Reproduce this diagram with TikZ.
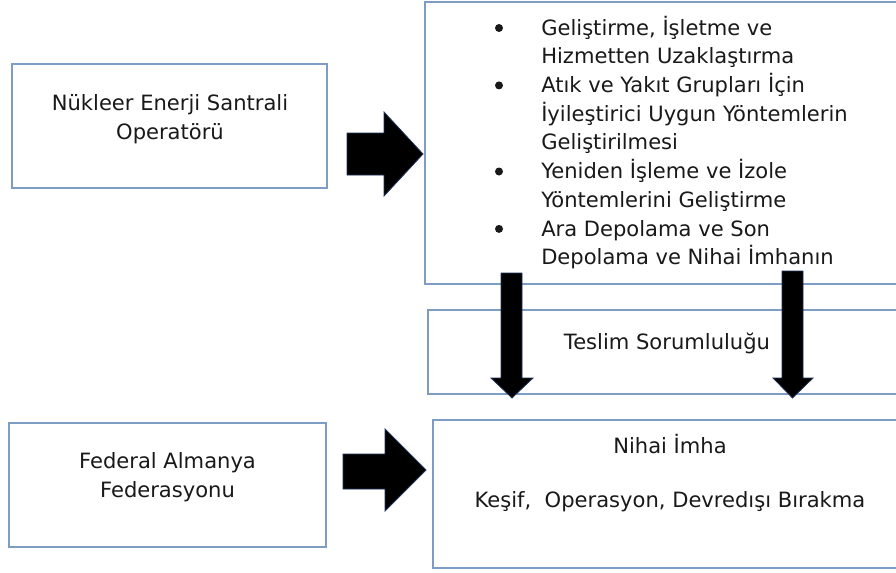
\documentclass[tikz,border=0pt]{standalone}
\usepackage{fontspec}
\setmainfont{DejaVu Sans}
\usetikzlibrary{fit}
\definecolor{boxline}{RGB}{126,157,196}
\definecolor{arrline}{RGB}{30,50,90}
\definecolor{txt}{RGB}{25,25,25}
\begin{document}
\begin{tikzpicture}[x=0.75pt,y=-0.75pt,
  box/.style={draw=boxline, line width=1.5pt, inner sep=0pt, fill=white},
  lbl/.style={text=txt, font=\fontsize{15.8}{21.5}\selectfont, align=center, inner sep=0pt},
  itemtext/.style={text=txt, font=\fontsize{15.8}{21.5}\selectfont, align=left, anchor=west, inner sep=0pt},
  dot/.style={circle, fill=txt, inner sep=0pt, minimum size=6pt},
  blockarrow/.style={fill=black, draw=arrline, line width=0.6pt, line join=miter}]
\useasboundingbox (0,0) rectangle (896,572);
\clip (0,0) rectangle (896,572);
\fill[white] (0,0) rectangle (896,572);

% boxes
\node[box, fit={(12,64) (327,188)}] (op) {};
\node[box, fit={(425,2) (908,284)}] (tasks) {};
\node[box, fit={(428,310) (906,394)}] (teslim) {};
\node[box, fit={(9,423) (326,547)}] (fed) {};
\node[box, fit={(433,420) (907,568)}] (nihai) {};

% labels
\node[lbl] (opt) at (170,119) {Nükleer Enerji Santrali\\Operatörü};
\node[lbl] (fedt) at (167.5,477.5) {Federal Almanya\\Federasyonu};
\node[lbl] (teslimt) at (667,343.5) {Teslim Sorumluluğu};
\node[lbl] (nihait) at (670,444.2) {Nihai İmha};
\node[lbl] (nihaisub) at (670,501.5) {Keşif,~ Operasyon, Devredışı Bırakma};

% bullet list
\node[itemtext] (i1) at (541,41.9) {Geliştirme, İşletme ve\\Hizmetten Uzaklaştırma};
\node[itemtext] (i2) at (541,113.65) {Atık ve Yakıt Grupları İçin\\İyileştirici Uygun Yöntemlerin\\Geliştirilmesi};
\node[itemtext] (i3) at (541,185.4) {Yeniden İşleme ve İzole\\Yöntemlerini Geliştirme};
\node[itemtext] (i4) at (541,244.75) {Ara Depolama ve Son\\Depolama ve Nihai İmhanın};
\node[dot] (d1) at (499,28) {};
\node[dot] (d2) at (499,85.4) {};
\node[dot] (d3) at (499,171.5) {};
\node[dot] (d4) at (499,228.9) {};

% block arrows
\draw[blockarrow] (347,133) -- (384,133) -- (384,112) -- (423,154) -- (384,196) -- (384,175) -- (347,175) -- cycle;
\draw[blockarrow] (343,454) -- (385,454) -- (385,429) -- (426,470) -- (385,511) -- (385,489) -- (343,489) -- cycle;
\draw[blockarrow] (501,273) -- (522,273) -- (522,378) -- (533,378) -- (512,398) -- (491,378) -- (501,378) -- cycle;
\draw[blockarrow] (782,271) -- (803,271) -- (803,378) -- (813,378) -- (792.5,398) -- (773,378) -- (782,378) -- cycle;
\end{tikzpicture}
\end{document}
